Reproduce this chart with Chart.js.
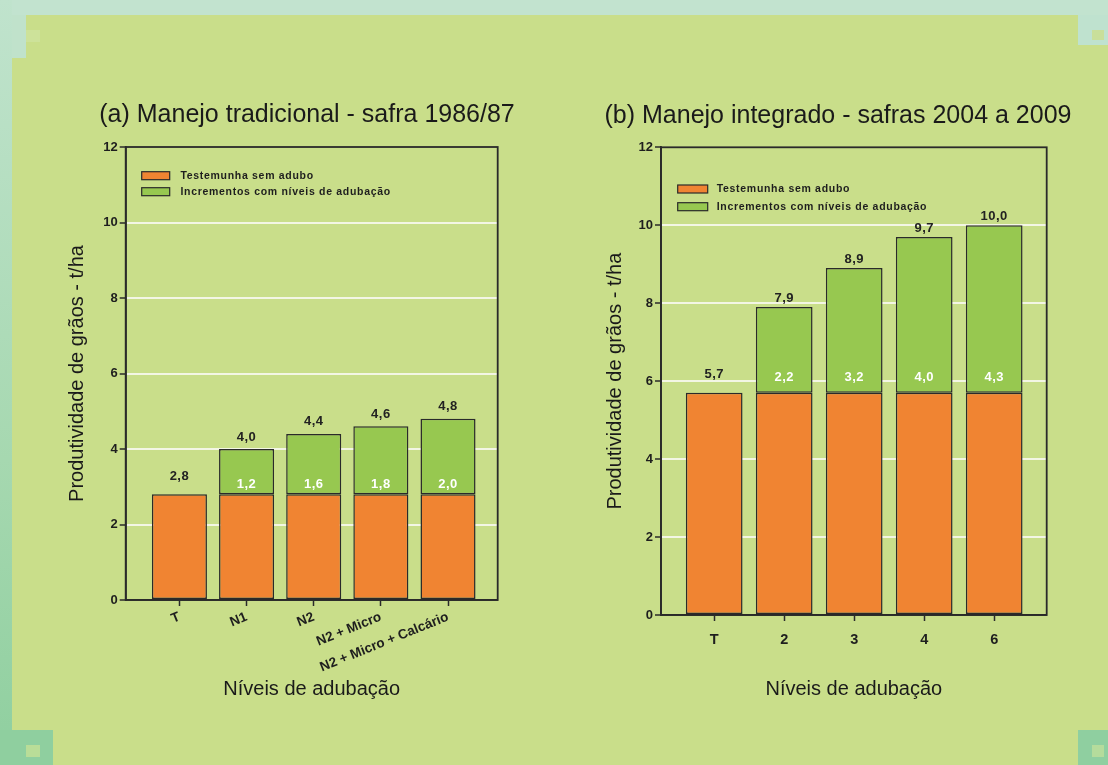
<!DOCTYPE html>
<html><head><meta charset="utf-8">
<script src="https://cdn.jsdelivr.net/npm/chart.js@4.4.0/dist/chart.umd.min.js"></script>
<style>
html,body{margin:0;padding:0;}
body{width:1108px;height:765px;position:relative;overflow:hidden;background:#c9de8a;}
.deco{position:absolute;}
#wa{position:absolute;left:0;top:0;width:614px;height:765px;}
#wb{position:absolute;left:568px;top:0;width:540px;height:765px;}
</style></head><body>
<div class="deco" style="left:0;top:0;width:1108px;height:15px;background:#c2e3cf"></div>
<div class="deco" style="left:0;top:0;width:12px;height:765px;background:linear-gradient(#c0e3cd,#a6d8b0 60%,#8fcf9f)"></div>
<div class="deco" style="left:12px;top:15px;width:14px;height:43px;background:#c0e2cb"></div>
<div class="deco" style="left:26px;top:30px;width:14px;height:12px;background:#cde29a"></div>
<div class="deco" style="left:1078px;top:15px;width:30px;height:30px;background:#bfe2cf"></div>
<div class="deco" style="left:1092px;top:30px;width:12px;height:10px;background:#c9df9a"></div>
<div class="deco" style="left:0;top:730px;width:53px;height:35px;background:#8fcf9f"></div>
<div class="deco" style="left:26px;top:745px;width:14px;height:12px;background:#b9dd98"></div>
<div class="deco" style="left:1078px;top:730px;width:30px;height:35px;background:#8fcfa0"></div>
<div class="deco" style="left:1092px;top:745px;width:12px;height:12px;background:#b5dc9c"></div>
<div id="wa"><canvas id="ca" width="614" height="765"></canvas></div>
<div id="wb"><canvas id="cb" width="540" height="765"></canvas></div>
<script>
// ---- data ----
const categoriesA = ['T', 'N1', 'N2', 'N2 + Micro', 'N2 + Micro + Calcário'];
const baseA = [2.8, 2.8, 2.8, 2.8, 2.8];
const incrementA = [null, 1.2, 1.6, 1.8, 2.0];

const categoriesB = ['T', '2', '3', '4', '6'];
const baseB = [5.7, 5.7, 5.7, 5.7, 5.7];
const incrementB = [null, 2.2, 3.2, 4.0, 4.3];

const yTickMin = 0, yTickMax = 12, yTickStep = 2;
const seriesNames = ['Testemunha sem adubo', 'Incrementos com níveis de adubação'];
const titleA = '(a) Manejo tradicional - safra 1986/87';
const titleB = '(b) Manejo integrado - safras 2004 a 2009';
const xTitleText = 'Níveis de adubação';
const yTitleText = 'Produtividade de grãos - t/ha';

// ---- styles ----
const FAMILY = '"Liberation Sans", Arial, sans-serif';
const ORANGE = '#f08432';
const GREEN = '#97c850';
const DARK = '#2a2a2a';
Chart.defaults.font.family = FAMILY;

const fmt = v => v.toFixed(1).replace('.', ',');

const plotBorder = {
  id: 'plotBorder',
  afterDraw(chart) {
    const {ctx, chartArea: a} = chart;
    ctx.save();
    ctx.strokeStyle = DARK; ctx.lineWidth = 1.8;
    ctx.strokeRect(a.left, a.top, a.right - a.left, a.bottom - a.top);
    ctx.restore();
  }
};

const boxLegend = {
  id: 'boxLegend',
  afterDraw(chart, args, o) {
    const {ctx, chartArea: a} = chart;
    ctx.save();
    chart.data.datasets.forEach((ds, i) => {
      const y = a.top + o.dy + i * o.rowGap;
      const x = a.left + o.dx;
      ctx.fillStyle = ds.backgroundColor;
      ctx.fillRect(x, y - 4, o.boxW, 8);
      ctx.strokeStyle = DARK; ctx.lineWidth = 1.2;
      ctx.strokeRect(x, y - 4, o.boxW, 8);
      ctx.fillStyle = '#1e1e1e';
      ctx.font = 'bold 10.5px ' + FAMILY;
      try { ctx.letterSpacing = '0.7px'; } catch (e) {}
      ctx.textAlign = 'left'; ctx.textBaseline = 'middle';
      ctx.fillText(ds.label, x + o.boxW + o.textGap, y + 0.5);
    });
    ctx.restore();
  }
};

const valueLabels = {
  id: 'valueLabels',
  afterDatasetsDraw(chart, args, o) {
    const {ctx} = chart;
    const m0 = chart.getDatasetMeta(0), m1 = chart.getDatasetMeta(1);
    const d0 = chart.data.datasets[0].data, d1 = chart.data.datasets[1].data;
    ctx.save();
    ctx.textAlign = 'center'; ctx.textBaseline = 'middle';
    ctx.font = 'bold 13px ' + FAMILY;
    try { ctx.letterSpacing = '0.5px'; } catch (e) {}
    m0.data.forEach((bar0, i) => {
      const b = d0[i].y, inc = d1[i].y;
      const total = b + (inc == null ? 0 : inc);
      const topY = inc == null ? bar0.y : m1.data[i].y;
      ctx.fillStyle = '#222';
      ctx.fillText(fmt(total), bar0.x, topY - (inc == null ? o.soloGap : o.totalGap));
      if (inc != null) {
        ctx.fillStyle = '#ffffff';
        ctx.fillText(fmt(inc), bar0.x, bar0.y - o.incGap);
      }
    });
    ctx.restore();
  }
};

function makeChart(canvas, c) {
  const datasets = [
    { label: seriesNames[0], data: c.base.map((v, i) => ({x: i, y: v})),
      backgroundColor: ORANGE, borderColor: DARK, borderWidth: 1.5, borderSkipped: false },
    { label: seriesNames[1], data: c.inc.map((v, i) => ({x: i, y: v})),
      backgroundColor: GREEN, borderColor: DARK, borderWidth: 1.5, borderSkipped: false }
  ];
  return new Chart(canvas, {
    type: 'bar',
    data: { datasets },
    plugins: [plotBorder, boxLegend, valueLabels],
    options: {
      responsive: false,
      animation: false,
      layout: { padding: 0 },
      datasets: { bar: { categoryPercentage: 1, barPercentage: c.barPct } },
      plugins: {
        legend: { display: false },
        tooltip: { enabled: false },
        title: { display: true, text: c.title, color: '#1a1a1a',
          font: { family: FAMILY, size: 25, weight: 'normal' },
          padding: { top: c.titleTop, bottom: c.titleBottom } },
        boxLegend: c.legend,
        valueLabels: c.labels
      },
      scales: {
        x: {
          type: 'linear', stacked: true, min: c.xMin, max: c.xMax, offset: false,
          afterBuildTicks: s => { s.ticks = c.categories.map((_, i) => ({ value: i })); },
          afterFit: s => { s.height = c.xAxisH; },
          ticks: { autoSkip: false, minRotation: c.rot, maxRotation: c.rot, padding: c.xTickPad,
            color: '#1e1e1e', font: { family: FAMILY, size: c.xTickSize, weight: 'bold' },
            callback: v => c.categories[v] ?? '' },
          grid: { display: true, drawOnChartArea: false, drawTicks: true, tickLength: 6,
            tickColor: DARK, tickWidth: 1.5, offset: false },
          border: { display: true, color: DARK, width: 1.8 },
          title: { display: true, text: xTitleText, color: '#1a1a1a',
            font: { family: FAMILY, size: 20, weight: 'normal' }, padding: { top: 0, bottom: 64 } }
        },
        y: {
          stacked: true, min: yTickMin, max: yTickMax,
          afterFit: s => { s.width = c.yAxisW; },
          ticks: { stepSize: yTickStep, padding: 2, color: '#1e1e1e',
            font: { family: FAMILY, size: 13, weight: 'bold' } },
          grid: { color: ctx => (ctx.tick && (ctx.tick.value === yTickMin || ctx.tick.value === yTickMax)) ? 'rgba(0,0,0,0)' : '#f3f6e4',
            lineWidth: 2, tickLength: 6, tickColor: DARK, tickWidth: 1.5 },
          border: { display: true, color: DARK, width: 1.8 },
          title: { display: true, text: yTitleText, color: '#1a1a1a',
            font: { family: FAMILY, size: 20, weight: 'normal' }, padding: { top: c.yTitlePad, bottom: 0 } }
        },
        yR: {
          type: 'linear', position: 'right', display: true,
          ticks: { display: false }, grid: { display: false }, border: { display: false },
          afterFit: s => { s.width = c.rightW; }
        }
      }
    }
  });
}

makeChart(document.getElementById('ca'), {
  categories: categoriesA, base: baseA, inc: incrementA, title: titleA,
  xMin: -0.8, xMax: 4.74, barPct: 0.82,
  yAxisW: 125.7, rightW: 116.3, xAxisH: 165,
  titleTop: 100, titleBottom: 17, yTitlePad: 65,
  rot: 22, xTickSize: 13.5, xTickPad: 3,
  legend: { dx: 16, dy: 28.7, rowGap: 16, boxW: 28, textGap: 10.7 },
  labels: { soloGap: 18, totalGap: 12, incGap: 10 }
});

makeChart(document.getElementById('cb'), {
  categories: categoriesB, base: baseB, inc: incrementB, title: titleB,
  xMin: -0.76, xMax: 4.75, barPct: 0.81,
  yAxisW: 93, rightW: 61.3, xAxisH: 150,
  titleTop: 101, titleBottom: 16.3, yTitlePad: 35,
  rot: 0, xTickSize: 14.5, xTickPad: 10,
  legend: { dx: 16.7, dy: 41.7, rowGap: 17.7, boxW: 30, textGap: 9 },
  labels: { soloGap: 18, totalGap: 9, incGap: 15.5 }
});
</script>
</body></html>
